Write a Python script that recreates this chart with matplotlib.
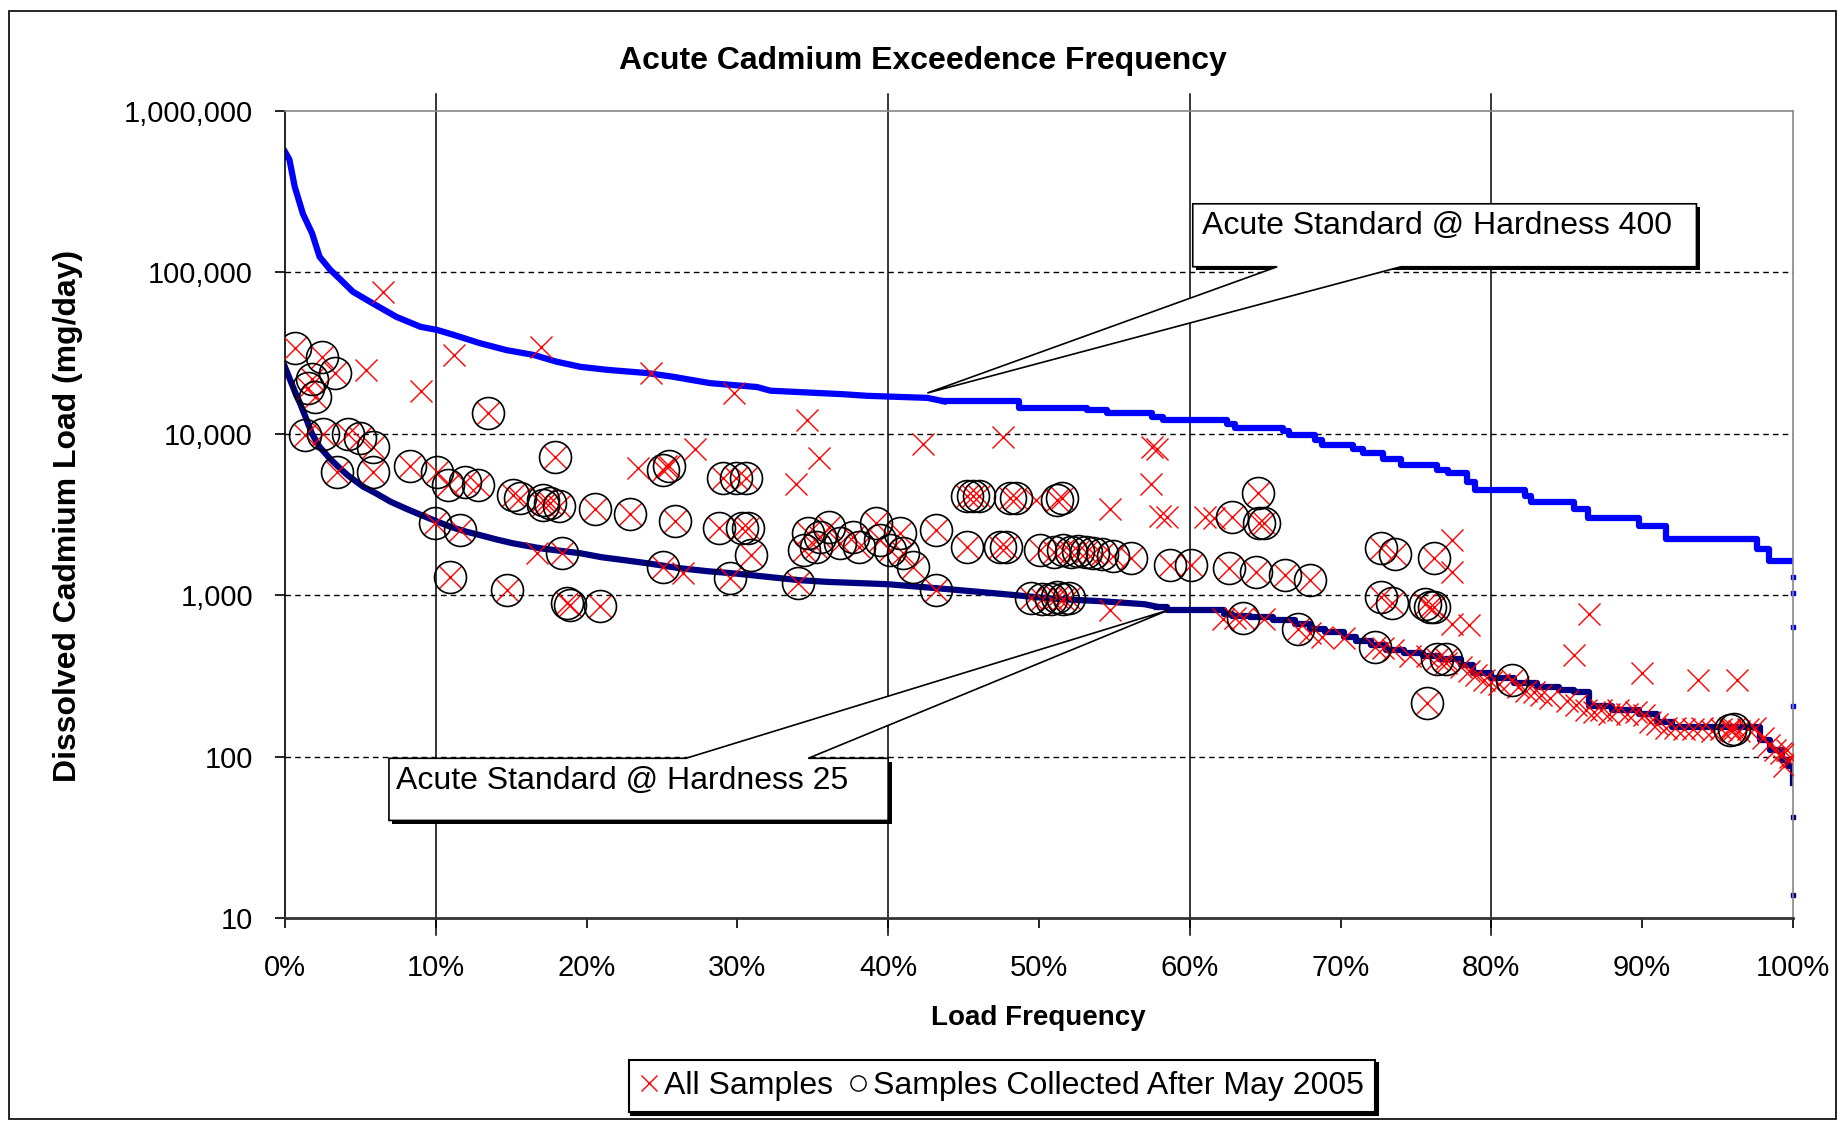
import matplotlib
matplotlib.use('Agg')
import matplotlib.pyplot as plt
import matplotlib.patches as mpatches
import matplotlib.transforms as mtransforms
from matplotlib.lines import Line2D
from matplotlib.ticker import FuncFormatter, NullLocator, FixedLocator

plt.rcParams['font.family'] = ['Liberation Sans', 'DejaVu Sans']

# acute standard @ hardness 400 (load frequency %, load mg/day)
std400_pct = [0.0, 0.3, 0.65, 1.2, 1.8, 2.3, 3.0, 3.7, 4.5, 5.8, 7.4, 9.0, 10.1, 11.2, 12.9,
              14.7, 16.5, 18.0, 19.6, 21.4, 24.0, 25.7, 28.2, 31.3, 32.2, 37.0, 38.6, 42.6,
              43.7, 48.7, 53.2, 54.5, 57.5, 58.2, 62.5, 63.0, 66.2, 66.6, 68.3, 68.8, 70.8,
              71.5, 72.8, 74.0, 76.4, 77.1, 78.4, 78.9, 82.2, 82.6, 85.5, 86.4, 89.8, 91.6,
              97.6, 98.4, 100.0]
std400_load = [560000, 500000, 340000, 230000, 175000, 125000, 104000, 90000, 76000, 64500,
               53000, 46000, 44000, 41000, 36500, 33000, 30800, 28000, 26000, 24900, 23800,
               22600, 20600, 19500, 18500, 17600, 17200, 16700, 15900, 14400, 14000, 13400,
               12700, 12100, 11500, 10900, 10400, 9900, 9200, 8500, 8000, 7600, 7000, 6400,
               6000, 5700, 5050, 4500, 4100, 3800, 3440, 3000, 2690, 2240, 1940, 1640, 1640]
std400_tail = [1290, 1040, 638, 206]

# acute standard @ hardness 25
std25_pct = [0.0, 0.4, 0.8, 1.0, 1.4, 1.8, 2.3, 3.0, 3.5, 4.2, 5.2, 6.0, 7.0, 8.0, 9.0, 10.1,
             11.0, 12.0, 13.0, 14.0, 15.1, 17.0, 19.6, 21.0, 22.5, 24.0, 26.2, 28.0, 30.0,
             32.0, 34.1, 36.0, 38.0, 40.0, 42.0, 44.0, 46.0, 47.5, 49.0, 50.5, 52.0, 54.0,
             55.5, 57.0, 57.8, 58.5, 62.3, 62.8, 64.0, 65.5, 67.0, 68.0, 69.0, 70.2, 71.0,
             72.0, 73.0, 74.2, 75.5, 76.5, 78.0, 78.8, 80.0, 81.5, 83.0, 84.5, 85.5, 86.5,
             88.0, 89.8, 91.0, 92.0, 97.8, 98.5, 99.3, 99.7, 100.0]
std25_load = [26000, 21000, 17000, 15500, 12500, 10000, 8300, 7000, 6300, 5500, 4700, 4300,
              3800, 3450, 3150, 2860, 2650, 2480, 2350, 2220, 2100, 1950, 1820, 1720, 1650,
              1580, 1470, 1410, 1360, 1300, 1240, 1210, 1190, 1170, 1130, 1090, 1050, 1020,
              990, 960, 940, 920, 900, 880, 850, 810, 770, 740, 730, 700, 660, 620, 590, 550,
              520, 490, 460, 440, 420, 400, 370, 330, 305, 285, 270, 260, 250, 205, 195, 185,
              165, 152, 126, 110, 95, 87, 69]
std25_tail = [42, 14]

# samples collected up to May 2005
older_pct = [6.5, 5.4, 9.0, 11.2, 17.0, 24.3, 29.8, 23.4, 25.3, 27.2, 16.7, 26.4, 34.6, 35.4,
             33.9, 42.3, 47.6, 49.8, 54.7, 57.5, 57.8, 57.4, 58.0, 58.5, 61.0, 61.6, 54.7,
             62.2, 63.0, 64.9, 68.0, 68.8, 70.2, 72.8, 73.5, 74.6, 75.7, 77.0, 77.4, 77.4,
             77.4, 78.5, 85.5, 86.5, 90.0, 93.7, 96.3, 78.0, 78.5, 79.0, 79.5, 80.0, 80.5,
             81.8, 82.3, 82.8, 83.3, 83.9, 85.0, 85.6, 86.3, 86.8, 87.3, 87.8, 88.4, 89.0,
             89.6, 90.1, 90.5, 91.0, 91.6, 92.2, 92.8, 93.4, 94.0, 94.6, 95.2, 95.8, 96.4,
             97.0, 97.5, 98.0, 98.4, 98.8, 99.2, 99.6, 99.8, 99.4]
older_load = [76000, 25000, 18300, 31000, 34600, 23800, 17900, 6100, 6300, 8100, 1820, 1370,
              12200, 7100, 4900, 8700, 9600, 3900, 3400, 8300, 8000, 4900, 3100, 3070, 3070,
              3000, 810, 710, 720, 710, 580, 550, 540, 470, 460, 420, 420, 380, 2200, 1400,
              660, 650, 425, 760, 330, 300, 300, 360, 340, 320, 300, 290, 280, 270, 255, 250,
              240, 230, 220, 210, 195, 190, 195, 185, 195, 185, 190, 180, 165, 160, 150, 150,
              148, 148, 150, 145, 148, 150, 145, 148, 150, 130, 118, 110, 105, 110, 100, 88]

# samples collected after May 2005
recent_pct = [0.67, 2.44, 3.3, 1.78, 1.56, 2.0, 1.34, 2.55, 4.2, 5.0, 5.86, 3.44, 5.86, 8.3,
              10.07, 10.84, 11.94, 12.82, 13.49, 15.14, 15.6, 17.1, 17.1, 17.6, 18.2, 17.9,
              20.56, 22.9, 25.5, 25.1, 25.9, 9.95, 11.6, 18.35, 10.95, 14.7, 18.9, 18.7, 20.9,
              25.1, 29.06, 29.9, 30.6, 28.8, 30.3, 30.7, 30.9, 29.5, 34.0, 34.7, 35.25, 34.4,
              35.5, 36.1, 36.8, 37.7, 38.1, 39.2, 39.45, 40.1, 40.8, 41.0, 41.66, 43.2, 43.2,
              45.2, 47.4, 47.8, 45.2, 45.6, 46.0, 48.07, 48.5, 50.1, 51.2, 51.5, 49.5, 50.2,
              50.8, 51.2, 51.6, 52.0, 51.0, 51.6, 52.1, 52.6, 53.1, 53.6, 54.2, 54.9, 56.1,
              58.7, 60.1, 62.6, 64.4, 66.3, 68.0, 64.5, 62.8, 64.6, 64.9, 63.5, 67.2, 72.3,
              72.7, 73.6, 76.2, 72.7, 73.4, 75.6, 75.9, 76.2, 76.4, 77.0, 75.7, 81.4, 95.8, 96.1]
recent_load = [34000, 30000, 23800, 22000, 19200, 17000, 9900, 10000, 10000, 9400, 8300, 5800,
               5800, 6300, 5800, 4800, 5060, 4800, 13400, 4200, 4000, 3600, 3900, 3750, 3550,
               7200, 3400, 3200, 6300, 6000, 2900, 2800, 2540, 1820, 1300, 1080, 870, 890, 860,
               1500, 5300, 5300, 5300, 2600, 2600, 2600, 1780, 1270, 1190, 2420, 2000, 1900,
               2300, 2660, 2100, 2300, 2000, 2800, 2200, 1900, 2420, 1820, 1500, 2540, 1080,
               2000, 2000, 2000, 4100, 4100, 4100, 4000, 4000, 1900, 3900, 4000, 960, 950, 950,
               980, 950, 960, 1850, 1900, 1850, 1880, 1850, 1820, 1800, 1740, 1700, 1540, 1540,
               1470, 1400, 1340, 1240, 4300, 3070, 2800, 2800, 720, 620, 480, 1950, 1800, 1700,
               980, 900, 880, 850, 850, 400, 400, 214, 300, 146, 148]

all_pct = older_pct + recent_pct
all_load = older_load + recent_load

x_ticks = [0, 10, 20, 30, 40, 50, 60, 70, 80, 90, 100]
y_ticks = [10, 100, 1000, 10000, 100000, 1000000]
major_vlines = [10, 40, 60, 80]
dashed_levels = [100, 1000, 10000, 100000]

fig = plt.figure(figsize=(18.38, 11.21), dpi=100)
fig.subplots_adjust(left=0.155, right=0.9755, bottom=0.181, top=0.901)
ax = fig.add_subplot(111)

ax.set_yscale('log')
ax.set_xlim(0, 100)
ax.set_ylim(10, 1000000)

for lev in dashed_levels:
    ax.axhline(lev, color='black', lw=1.0, linestyle=(0, (4, 3)), zorder=1)
for v in major_vlines:
    ax.plot([v, v], [-0.021, 1.021], color='black', lw=1.1,
            transform=ax.get_xaxis_transform(), clip_on=False, zorder=1)


def std_curve(pct, load, split, color):
    # smooth steep head, staircase in the flatter tail
    n = sum(1 for p in pct if p <= split)
    ax.plot(pct[:n], load[:n], color=color, lw=4.5, solid_joinstyle='miter', zorder=2)
    ax.step(pct[n - 1:], load[n - 1:], where='post', color=color, lw=4.5, zorder=2)


std_curve(std400_pct, std400_load, 43.7, '#0000FF')
std_curve(std25_pct, std25_load, 57.8, '#000080')
ax.plot([100] * len(std400_tail), std400_tail, ls='none', marker='s', ms=3.5,
        color='#0000FF', clip_on=False, zorder=2)
ax.plot([100] * len(std25_tail), std25_tail, ls='none', marker='s', ms=3.5,
        color='#000080', clip_on=False, zorder=2)

ax.plot(all_pct, all_load, ls='none', marker='x', ms=16, mew=1.0, color='#FF0000', zorder=3)
ax.plot(recent_pct, recent_load, ls='none', marker='o', ms=23, mew=1.2,
        mfc='none', mec='black', zorder=4)

ax.xaxis.set_major_locator(FixedLocator(x_ticks))
ax.xaxis.set_major_formatter(FuncFormatter(lambda v, p: '%d%%' % v))
ax.yaxis.set_major_locator(FixedLocator(y_ticks))
ax.yaxis.set_minor_locator(NullLocator())
ax.yaxis.set_major_formatter(FuncFormatter(lambda v, p: '{:,.0f}'.format(v)))
ax.tick_params(axis='both', direction='out', length=7, width=1.2, labelsize=21, color='black')
ax.tick_params(axis='y', pad=16)
ax.tick_params(axis='x', pad=19)

ax.spines['left'].set_color('black')
ax.spines['left'].set_linewidth(1.2)
ax.spines['bottom'].set_color('#333333')
ax.spines['bottom'].set_linewidth(2.0)
ax.spines['top'].set_color('#888888')
ax.spines['top'].set_linewidth(1.2)
ax.spines['right'].set_color('#888888')
ax.spines['right'].set_linewidth(1.2)

fig.text(0.502, 0.9455, 'Acute Cadmium Exceedence Frequency', ha='center', va='center',
         fontsize=23, fontweight='bold')
fig.text(0.565, 0.0915, 'Load Frequency', ha='center', va='center',
         fontsize=20, fontweight='bold')
fig.text(0.037, 0.54, 'Dissolved Cadmium Load (mg/day)', ha='center', va='center',
         rotation=90, fontsize=23, fontweight='bold')


def callout(text, box, base, tip, wedge_top, text_xy):
    x0, y0, x1, y1 = box
    tx, ty = ax.transAxes.inverted().transform(ax.transData.transform(tip))
    if wedge_top:
        verts = [(x0, y1), (base[0], y1), (tx, ty), (base[1], y1), (x1, y1), (x1, y0), (x0, y0)]
    else:
        verts = [(x0, y1), (x1, y1), (x1, y0), (base[1], y0), (tx, ty), (base[0], y0), (x0, y0)]
    shadow_tr = mtransforms.offset_copy(ax.transAxes, fig=fig, x=2.5, y=-2.5, units='points')
    ax.add_patch(mpatches.Rectangle((x0, y0), x1 - x0, y1 - y0, transform=shadow_tr,
                                    facecolor='black', edgecolor='none', zorder=5, clip_on=False))
    ax.add_patch(mpatches.Polygon(verts, closed=True, transform=ax.transAxes, facecolor='white',
                                  edgecolor='black', lw=1.2, zorder=6, clip_on=False))
    ax.text(text_xy[0], text_xy[1], text, transform=ax.transAxes, ha='left', va='center',
            fontsize=23, zorder=7)


callout('Acute Standard @ Hardness 400', (0.602, 0.807, 0.936, 0.885), (0.658, 0.740),
        (42.6, 17900), False, (0.608, 0.857))
callout('Acute Standard @ Hardness 25', (0.069, 0.121, 0.400, 0.198), (0.266, 0.347),
        (58.6, 810), True, (0.0737, 0.170))

handles = [Line2D([], [], ls='none', marker='x', ms=11, mew=1.0, color='#FF0000'),
           Line2D([], [], ls='none', marker='o', ms=11, mew=1.0, mfc='none', mec='black')]
leg = fig.legend(handles, ['All Samples', 'Samples Collected After May 2005'], loc='center',
                 bbox_to_anchor=(0.545, 0.031), ncol=2, fontsize=23, frameon=True,
                 fancybox=False, edgecolor='black', handlelength=0.6, handletextpad=0.15,
                 columnspacing=0.5, borderpad=0.35, borderaxespad=0,
                 shadow={'color': 'black', 'alpha': 1})
leg.get_frame().set_linewidth(1.5)

# outer chart-area border
fig.add_artist(mpatches.Rectangle((0.0049, 0.0018), 0.994, 0.9884, transform=fig.transFigure,
                                  facecolor='none', edgecolor='black', lw=1.2))

fig.savefig('out.png', dpi=100)
